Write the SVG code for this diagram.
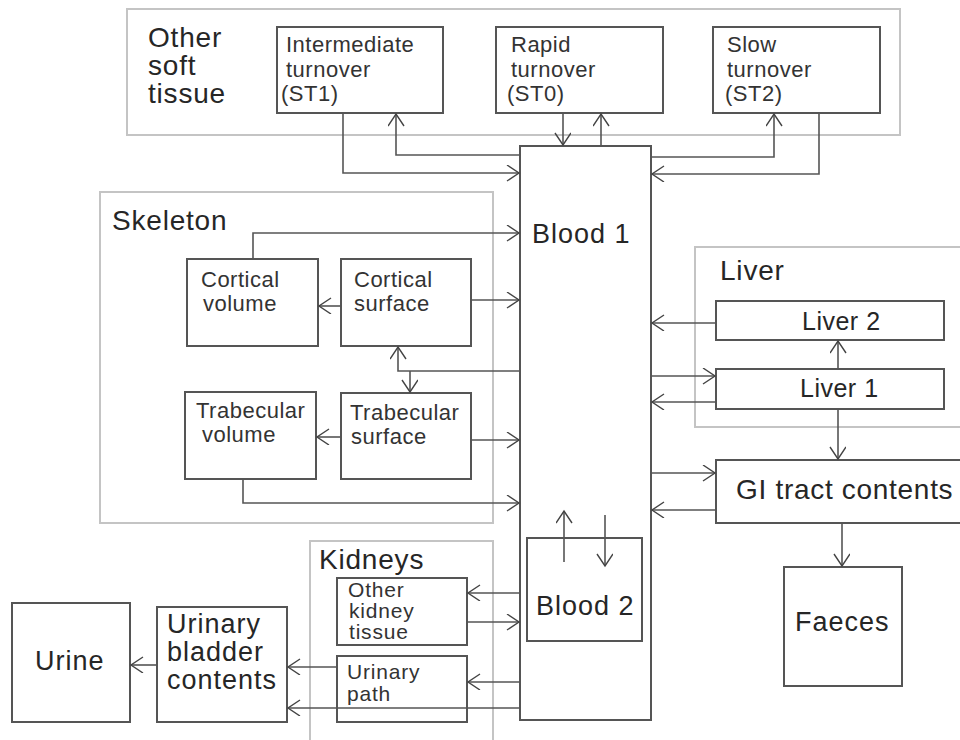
<svg xmlns="http://www.w3.org/2000/svg" width="960" height="740" viewBox="0 0 960 740">
  <defs>
    <marker id="arr" markerUnits="userSpaceOnUse" markerWidth="16" markerHeight="18" refX="13" refY="8" orient="auto">
      <path d="M1,0 L13,8 L1,16" fill="none" stroke="#444" stroke-width="1.4"/>
    </marker>
    <style>
      .group { fill: #fff; stroke: #c4c4c4; stroke-width: 2; }
      .box { fill: #fff; stroke: #555; stroke-width: 2; }
      text { font-family: "Liberation Sans", Arial, sans-serif; fill: #262626; }
      .grp-t { font-size: 28px; letter-spacing: 0.8px; }
      .lbl { font-size: 22px; letter-spacing: 0.5px; fill: #333; }
      .big { font-size: 27px; letter-spacing: 1px; }
      .mid { font-size: 25px; letter-spacing: 0.5px; }
      .gi { font-size: 28px; letter-spacing: 0.7px; }
      .small { font-size: 21px; letter-spacing: 0.8px; fill: #333; }
      .c { fill: none; stroke: #555; stroke-width: 1.6; marker-end: url(#arr); }
    </style>
  </defs>
  <rect width="960" height="740" fill="#fff"/>

  <!-- compartment groups -->
  <g id="grp-soft-tissue">
    <rect class="group" x="127" y="9" width="773" height="126"/>
    <text class="grp-t" x="148" y="47">Other</text>
    <text class="grp-t" x="148" y="75">soft</text>
    <text class="grp-t" x="148" y="103">tissue</text>
  </g>
  <g id="grp-skeleton">
    <rect class="group" x="100" y="192" width="393" height="331"/>
    <text class="grp-t" x="112" y="230">Skeleton</text>
  </g>
  <g id="grp-liver">
    <rect class="group" x="695" y="247" width="280" height="180"/>
    <text class="grp-t" x="720" y="280">Liver</text>
  </g>
  <g id="grp-kidneys">
    <rect class="group" x="310" y="541" width="183" height="220"/>
    <text class="grp-t" x="319" y="569">Kidneys</text>
  </g>

  <!-- nodes -->
  <g id="st1">
    <rect class="box" x="277" y="27" width="166" height="86"/>
    <text class="lbl" x="286" y="52">Intermediate</text>
    <text class="lbl" x="286" y="77">turnover</text>
    <text class="lbl" x="281" y="101">(ST1)</text>
  </g>
  <g id="st0">
    <rect class="box" x="496" y="27" width="167" height="86"/>
    <text class="lbl" x="511" y="52">Rapid</text>
    <text class="lbl" x="511" y="77">turnover</text>
    <text class="lbl" x="507" y="101">(ST0)</text>
  </g>
  <g id="st2">
    <rect class="box" x="713" y="27" width="167" height="86"/>
    <text class="lbl" x="727" y="52">Slow</text>
    <text class="lbl" x="727" y="77">turnover</text>
    <text class="lbl" x="725" y="101">(ST2)</text>
  </g>
  <g id="blood1">
    <rect class="box" x="520" y="146" width="131" height="574" stroke="#777"/>
    <text class="big" x="532" y="243">Blood 1</text>
  </g>
  <g id="blood2">
    <rect class="box" x="527" y="538" width="115" height="103"/>
    <text class="big" x="536" y="615">Blood 2</text>
  </g>
  <g id="cortical-volume">
    <rect class="box" x="187" y="259" width="131" height="87"/>
    <text class="lbl" x="201" y="287">Cortical</text>
    <text class="lbl" x="203" y="311">volume</text>
  </g>
  <g id="cortical-surface">
    <rect class="box" x="341" y="259" width="130" height="87"/>
    <text class="lbl" x="354" y="287">Cortical</text>
    <text class="lbl" x="354" y="311">surface</text>
  </g>
  <g id="trabecular-volume">
    <rect class="box" x="185" y="392" width="131" height="87"/>
    <text class="lbl" x="196" y="418">Trabecular</text>
    <text class="lbl" x="202" y="442">volume</text>
  </g>
  <g id="trabecular-surface">
    <rect class="box" x="341" y="393" width="130" height="86"/>
    <text class="lbl" x="350" y="420">Trabecular</text>
    <text class="lbl" x="351" y="444">surface</text>
  </g>
  <g id="liver2">
    <rect class="box" x="716" y="301" width="228" height="39"/>
    <text class="mid" x="802" y="330">Liver 2</text>
  </g>
  <g id="liver1">
    <rect class="box" x="716" y="369" width="228" height="40"/>
    <text class="mid" x="800" y="397">Liver 1</text>
  </g>
  <g id="gi-tract">
    <rect class="box" x="716" y="460" width="260" height="63"/>
    <text class="gi" x="736" y="499">GI tract contents</text>
  </g>
  <g id="faeces">
    <rect class="box" x="784" y="567" width="118" height="119"/>
    <text class="big" x="795" y="631">Faeces</text>
  </g>
  <g id="other-kidney">
    <rect class="box" x="337" y="578" width="130" height="67"/>
    <text class="small" x="348" y="597">Other</text>
    <text class="small" x="349" y="618">kidney</text>
    <text class="small" x="349" y="639">tissue</text>
  </g>
  <g id="urinary-path">
    <rect class="box" x="337" y="656" width="130" height="66"/>
    <text class="small" x="347" y="679">Urinary</text>
    <text class="small" x="347" y="701">path</text>
  </g>
  <g id="bladder">
    <rect class="box" x="157" y="607" width="130" height="115"/>
    <text class="big" x="167" y="633">Urinary</text>
    <text class="big" x="167" y="661">bladder</text>
    <text class="big" x="167" y="689">contents</text>
  </g>
  <g id="urine">
    <rect class="box" x="12" y="603" width="118" height="119"/>
    <text class="big" x="35" y="670">Urine</text>
  </g>

  <!-- connectors -->
  <g id="connectors">
    <!-- soft tissue exchange -->
    <path class="c" d="M343,113 V173 H519"/>
    <path class="c" d="M520,155 H396 V114"/>
    <path class="c" d="M563,113 V145"/>
    <path class="c" d="M601,146 V114"/>
    <path class="c" d="M651,157 H774 V114"/>
    <path class="c" d="M819,113 V174 H652"/>
    <!-- skeleton -->
    <path class="c" d="M253,259 V233 H519"/>
    <path class="c" d="M341,306 H319"/>
    <path class="c" d="M471,300 H519"/>
    <path class="c" d="M520,371 H398 V347"/>
    <path class="c" d="M410,371 V392"/>
    <path class="c" d="M341,437 H317"/>
    <path class="c" d="M471,440 H519"/>
    <path class="c" d="M243,479 V503 H519"/>
    <!-- liver and GI tract -->
    <path class="c" d="M716,323 H652"/>
    <path class="c" d="M838,369 V341"/>
    <path class="c" d="M651,376 H715"/>
    <path class="c" d="M716,402 H652"/>
    <path class="c" d="M838,409 V459"/>
    <path class="c" d="M651,473 H715"/>
    <path class="c" d="M716,510 H652"/>
    <path class="c" d="M842,523 V566"/>
    <!-- blood 2 -->
    <path class="c" d="M564,562 V511"/>
    <path class="c" d="M605,515 V566"/>
    <!-- kidneys and urinary tract -->
    <path class="c" d="M520,593 H468"/>
    <path class="c" d="M467,622 H519"/>
    <path class="c" d="M520,682 H468"/>
    <path class="c" d="M337,667 H288"/>
    <path class="c" d="M520,708 H288"/>
    <path class="c" d="M157,665 H131"/>
  </g>
</svg>
